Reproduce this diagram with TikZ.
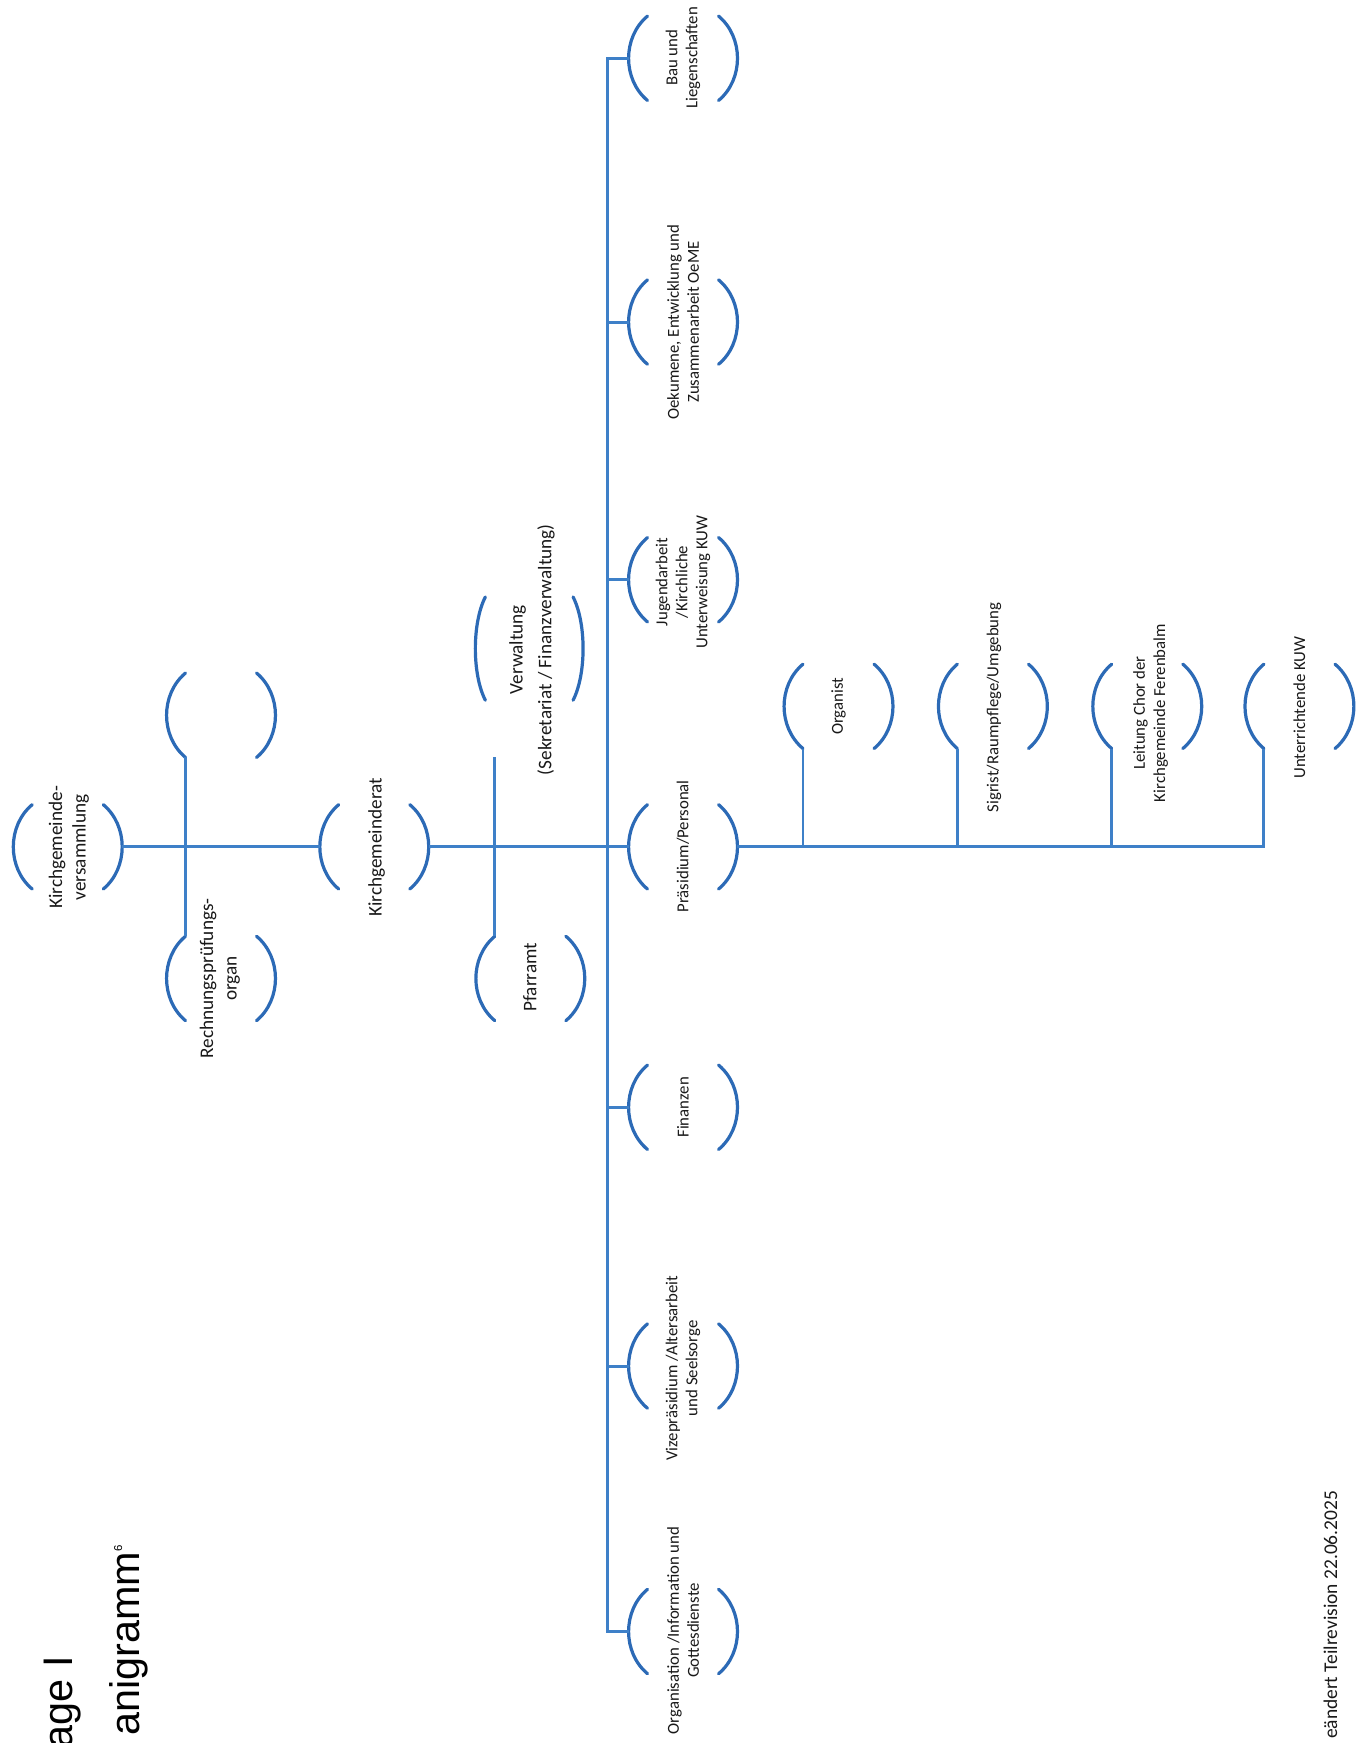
\documentclass[tikz,border=0pt]{standalone}
\usepackage{fontspec}
\setmainfont{Carlito}
\newfontfamily\titlefont{Liberation Sans}
\definecolor{linec}{RGB}{62,128,200}
\definecolor{arcc}{RGB}{44,106,182}
\definecolor{txt}{RGB}{25,25,25}
\tikzset{
  conn/.style={draw=linec, line width=1.4pt},
  arcline/.style={draw=arcc, line width=1.55pt, line cap=round},
  bub/.pic={
    \draw[arcline] (-32,-38) .. controls (-54.7,-19) and (-54.7,19) .. (-32,38);
    \draw[arcline] (32,-38) .. controls (54.7,-19) and (54.7,19) .. (32,38);
    \coordinate (-L) at (-49,0);
    \coordinate (-R) at (49,0);
    \coordinate (-LT) at (-32,-38);
    \coordinate (-LB) at (-32,38);
  },
  bubw/.pic={
    \draw[arcline] (-39.5,-46.5) .. controls (-51.5,-23) and (-51.5,23) .. (-39.5,46.5);
    \draw[arcline] (39.5,-46.5) .. controls (51.5,-23) and (51.5,23) .. (39.5,46.5);
  },
  lblA/.style={rotate=90, align=center, inner sep=0, text=txt, font=\fontsize{9.3}{11.3}\selectfont},
  lblV/.style={rotate=90, align=center, inner sep=0, text=txt, font=\fontsize{9.3}{14}\selectfont},
  lblB/.style={rotate=90, align=center, inner sep=0, text=txt, font=\fontsize{8.1}{9.7}\selectfont},
}
\begin{document}
\begin{tikzpicture}[x=0.537pt, y=-0.537pt]
\useasboundingbox (0,0) rectangle (1230,1569.4);
\fill[white] (0,0) rectangle (1230,1569.4);

% upper tier
\pic (kgv) at (61,762.5) {bub};
\node[lblA] (tkgv) at (62,763) {Kirchgemeinde-\\versammlung};
\pic (leer) at (199,644) {bub};
\pic (rpo) at (199,881) {bub};
\node[lblA] (trpo) at (198,881) {Rechnungsprüfungs-\\organ};
\pic (kgr) at (337,762.5) {bub};
\node[lblA] (tkgr) at (339,763) {Kirchgemeinderat};
\pic (verw) at (476.5,584) {bubw};
\node[lblV] (tverw) at (479,585) {Verwaltung\\(Sekretariat / Finanzverwaltung)};
\pic (pfa) at (477.5,881) {bub};
\node[lblA] (tpfa) at (477,880) {Pfarramt};
\coordinate (vtop) at (445.5,682);

% spine nodes
\pic (bau) at (615,52.5) {bub};
\node[lblB] (tbau) at (615,52) {Bau und\\Liegenschaften};
\pic (oek) at (615,290) {bub};
\node[lblB] (toek) at (615,290) {Oekumene, Entwicklung und\\Zusammenarbeit OeME};
\pic (jug) at (615,522) {bub};
\node[lblB] (tjug) at (615,524) {Jugendarbeit\\/Kirchliche\\Unterweisung KUW};
\pic (pra) at (615,762.5) {bub};
\node[lblB] (tpra) at (615,762) {Präsidium/Personal};
\pic (fin) at (615,997) {bub};
\node[lblB] (tfin) at (615,997) {Finanzen};
\pic (viz) at (615,1230) {bub};
\node[lblB] (tviz) at (615,1232) {Vizepräsidium /Altersarbeit\\und Seelsorge};
\pic (org) at (615,1469) {bub};
\node[lblB] (torg) at (615,1468) {Organisation /Information und\\Gottesdienste};

% sub nodes
\pic (og) at (755,636) {bub};
\node[lblB] (tog) at (755,636) {Organist};
\pic (sg) at (894,636) {bub};
\node[lblB] (tsg) at (895,637) {Sigrist/Raumpflege/Umgebung};
\pic (ch) at (1033,636) {bub};
\node[lblB] (tch) at (1036,642) {Leitung Chor der\\Kirchgemeinde Ferenbalm};
\pic (un) at (1170,636) {bub};
\node[lblB] (tun) at (1170,637) {Unterrichtende KUW};

% connectors
\coordinate (spx) at (547,0);
\draw[conn] (kgv-R) -- (kgr-L);
\draw[conn] (leer-LB) -- (rpo-LT);
\draw[conn] (kgr-R) -- (pra-L);
\draw[conn] (vtop) -- (pfa-LT);
\draw[conn] (bau-L) -- (bau-L -| spx) -- (org-L -| spx) -- (org-L);
\foreach \n in {oek,jug,fin,viz} {\draw[conn] (\n-L) -- (\n-L -| spx);}
\draw[conn] (pra-R) -- (pra-R -| un-LB) -- (un-LB);
\foreach \n in {og,sg,ch} {\draw[conn] (\n-LB) -- (\n-LB |- pra-R);}

% title and footer
\node[rotate=90, anchor=base east, inner sep=0, font=\titlefont\fontsize{20}{24}\selectfont] (t1) at (65.7,1491) {age I};
\node[rotate=90, anchor=base east, inner sep=0, font=\titlefont\fontsize{20}{24}\selectfont] (t2) at (126,1391) {anigramm\raisebox{8.6pt}{\fontsize{5.5}{6}\selectfont 6}};
\node[rotate=90, anchor=base east, inner sep=0, text=txt, font=\fontsize{9.4}{11}\selectfont] (date) at (1204,1342) {eändert Teilrevision 22.06.2025};
\end{tikzpicture}
\end{document}
